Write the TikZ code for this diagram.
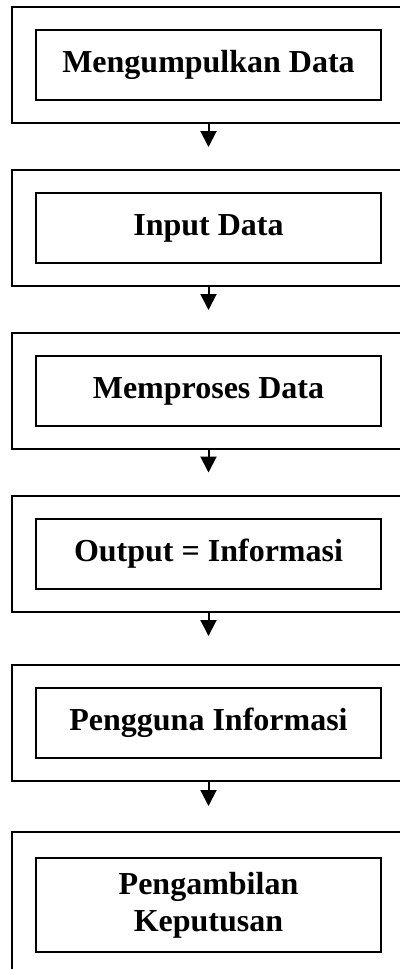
\documentclass[tikz,border=0pt]{standalone}
\usepackage{fontspec}
\setmainfont{Liberation Serif}
\usetikzlibrary{arrows.meta}
\begin{document}
\begin{tikzpicture}[x=0.5pt,y=-0.5pt,
  frame/.style={draw, line width=1pt, minimum width=204pt, minimum height=58pt, inner sep=0pt},
  stepbox/.style={draw, line width=1pt, minimum width=172.5pt, minimum height=35pt, inner sep=0pt,
    font=\bfseries\fontsize{16}{18.5}\selectfont, align=center},
  flow/.style={line width=1pt, -{Triangle[width=8pt,length=8pt]}}]
\useasboundingbox (0,0) rectangle (400,969);
\clip (0,0) rectangle (400,969);

% outer frames (open to the right edge of the page)
\node[frame] (o1) at (216,65) {};
\node[frame] (o2) at (216,228) {};
\node[frame] (o3) at (216,390.5) {};
\node[frame] (o4) at (216,554) {};
\node[frame] (o5) at (216,723) {};
\node[frame, minimum height=84pt] (o6) at (216,916) {};

% process steps
\node[stepbox] (b1) at (208.5,65) {Mengumpulkan Data};
\node[stepbox] (b2) at (208.5,228) {Input Data};
\node[stepbox] (b3) at (208.5,391) {Memproses Data};
\node[stepbox] (b4) at (208.5,553.5) {Output = Informasi};
\node[stepbox] (b5) at (208.5,722.5) {Pengguna Informasi};
\node[stepbox, minimum height=47pt] (b6) at (208.5,905) {Pengambilan\\Keputusan};

% flow arrows below each frame
\draw[flow] (b1.center |- o1.south) -- ++(0,23);
\draw[flow] (b2.center |- o2.south) -- ++(0,23);
\draw[flow] (b3.center |- o3.south) -- ++(0,23);
\draw[flow] (b4.center |- o4.south) -- ++(0,23);
\draw[flow] (b5.center |- o5.south) -- ++(0,24);
\end{tikzpicture}
\end{document}
